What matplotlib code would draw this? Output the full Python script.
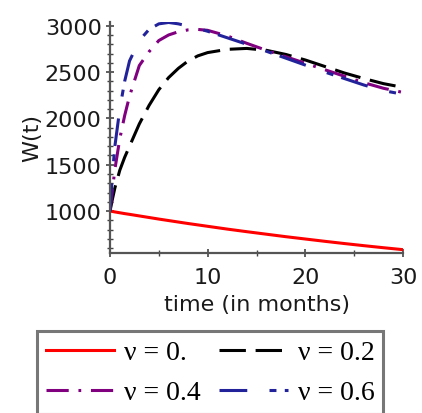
import matplotlib
matplotlib.use("Agg")
import matplotlib.pyplot as plt
from matplotlib.ticker import MultipleLocator

# ---- data ----
t = [0, 0.25, 0.5, 1, 1.5, 2, 3, 4, 5, 6, 7, 8, 9, 10, 12, 14, 16, 18, 20, 22, 24, 26, 28, 30]
w_nu00 = [1000, 996, 991, 982, 973, 965, 948, 931, 914, 898, 882, 866, 851, 836, 806, 778, 751, 724, 699, 674, 650, 627, 605, 584]
w_nu02 = [1000, 1130, 1250, 1440, 1580, 1700, 1940, 2140, 2310, 2440, 2540, 2620, 2675, 2710, 2745, 2755, 2735, 2690, 2630, 2560, 2490, 2430, 2375, 2335]
w_nu04 = [1000, 1230, 1450, 1780, 2030, 2240, 2570, 2720, 2840, 2900, 2935, 2955, 2960, 2950, 2890, 2810, 2735, 2665, 2595, 2525, 2455, 2385, 2325, 2280]
w_nu06 = [1000, 1400, 1700, 2100, 2400, 2620, 2840, 2960, 3020, 3035, 3020, 2995, 2970, 2940, 2870, 2800, 2725, 2650, 2575, 2500, 2430, 2360, 2300, 2260]
labels = ["ν = 0.", "ν = 0.2", "ν = 0.4", "ν = 0.6"]
x_ticks = [0, 10, 20, 30]
y_ticks = [1000, 1500, 2000, 2500, 3000]

plt.rcParams['lines.scale_dashes'] = False

fig = plt.figure(figsize=(4.22, 4.14), dpi=100)
ax = fig.add_axes([110/422, 1-254/414, 293/422, 231/414])

lw = 2.2
l0, = ax.plot(t, w_nu00, color='#ff0000', lw=lw, label=labels[0])
l2, = ax.plot(t, w_nu02, color='black', lw=lw, dashes=(19, 7), label=labels[1])
l4, = ax.plot(t, w_nu04, color='#800080', lw=lw, dashes=(16, 7, 2, 7), label=labels[2])
l6, = ax.plot(t, w_nu06, color='#22229a', lw=lw, dashes=(20, 16, 5, 6), label=labels[3])

ax.set_xlim(0, 30)
ax.set_ylim(548, 3040)
ax.set_xticks(x_ticks)
ax.set_yticks(y_ticks)
ax.xaxis.set_minor_locator(MultipleLocator(5))
ax.yaxis.set_minor_locator(MultipleLocator(100))

for s in ['top', 'right']:
    ax.spines[s].set_visible(False)
for s in ['left', 'bottom']:
    ax.spines[s].set_color('#555555')
    ax.spines[s].set_linewidth(1.6)

ax.tick_params(axis='both', which='major', direction='inout', length=6, width=1.2,
               color='#444444', labelsize=16, labelcolor='#1a1a1a')
ax.tick_params(axis='both', which='minor', direction='inout', length=4, width=1.0, color='#444444')
ax.tick_params(axis='y', which='major', pad=3)
ax.tick_params(axis='x', which='major', pad=7)

ax.set_xlabel("time (in months)", fontsize=16, color='#1a1a1a', labelpad=5)
ax.set_ylabel("W(t)", fontsize=16, color='#1a1a1a', labelpad=2)

leg = fig.legend(handles=[l0, l4, l2, l6], labels=[labels[0], labels[2], labels[1], labels[3]],
                 ncol=2, loc='upper left', bbox_to_anchor=(37/422, 1-332/414),
                 borderaxespad=0, prop={'family': 'Liberation Serif', 'size': 20},
                 handlelength=2.45, handletextpad=0.36, columnspacing=0.68,
                 labelspacing=0.52, borderpad=0.32, fancybox=False, framealpha=1)
leg.get_frame().set_edgecolor('#777777')
leg.get_frame().set_linewidth(2.2)

fig.savefig("out.png", dpi=100)
